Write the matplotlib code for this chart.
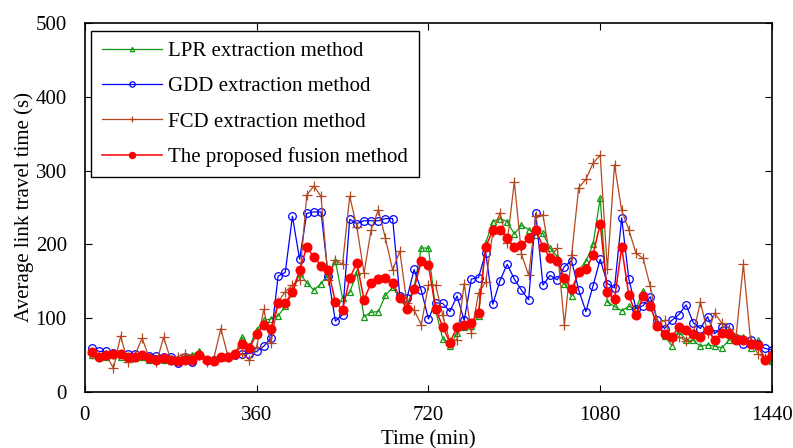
import numpy as np
import matplotlib
matplotlib.use("Agg")
import matplotlib.pyplot as plt

plt.rcParams['font.family'] = ['Liberation Serif', 'DejaVu Serif']

# time of day, 15 min steps
t = np.arange(15, 1441, 15)

lpr = [50, 47, 48, 50, 48, 45, 46, 48, 44, 43, 44, 42, 45, 48, 50, 56, 45, 44, 46, 47,
       52, 74, 62, 84, 97, 99, 103, 116, 134, 161, 148, 138, 147, 160, 178, 127, 135, 162, 102, 108,
       109, 131, 142, 127, 118, 142, 195, 195, 111, 72, 62, 80, 88, 89, 103, 202, 231, 235, 231, 214,
       226, 220, 213, 215, 195, 183, 147, 130, 165, 177, 200, 263, 122, 116, 110, 116, 113, 137, 115, 91,
       76, 63, 82, 70, 70, 62, 64, 62, 60, 70, 73, 75, 59, 70, 43, 42]

gdd = [59, 55, 55, 53, 52, 52, 51, 50, 49, 49, 48, 48, 39, 48, 41, 50, 44, 43, 47, 48,
       50, 52, 52, 55, 62, 73, 157, 162, 238, 180, 242, 244, 244, 157, 96, 105, 234, 228, 232, 232,
       232, 235, 235, 130, 127, 166, 138, 99, 121, 120, 109, 130, 97, 153, 155, 189, 119, 151, 173, 153,
       138, 125, 242, 145, 158, 152, 170, 178, 138, 109, 144, 180, 147, 141, 236, 153, 113, 117, 129, 97,
       86, 97, 105, 118, 94, 86, 102, 79, 88, 88, 73, 65, 70, 65, 59, 57]

fcd = [52, 48, 50, 32, 76, 40, 50, 73, 46, 40, 74, 44, 48, 52, 45, 50, 40, 45, 86, 48,
       52, 52, 43, 61, 112, 66, 122, 136, 145, 152, 267, 279, 265, 152, 179, 173, 265, 224, 161, 220,
       247, 208, 165, 191, 120, 111, 91, 145, 145, 104, 68, 71, 147, 80, 134, 149, 217, 243, 202, 285,
       187, 158, 239, 240, 182, 195, 91, 185, 277, 288, 310, 321, 166, 308, 246, 220, 188, 181, 143, 93,
       97, 70, 75, 69, 79, 122, 80, 107, 93, 86, 77, 173, 70, 52, 46, 50]

fusion = [54, 48, 50, 52, 52, 47, 48, 50, 46, 44, 46, 44, 42, 44, 44, 50, 43, 42, 48, 48,
          51, 65, 59, 79, 91, 86, 120, 120, 136, 165, 196, 183, 171, 165, 122, 111, 154, 175, 125, 148,
          153, 154, 148, 128, 113, 140, 177, 172, 113, 88, 67, 88, 91, 94, 107, 196, 220, 220, 208, 197,
          199, 208, 220, 197, 181, 178, 154, 139, 162, 166, 186, 228, 135, 126, 196, 131, 105, 130, 117, 89,
          79, 75, 88, 84, 79, 75, 84, 71, 80, 79, 70, 71, 65, 64, 44, 50]

fig = plt.figure(figsize=(7.93, 4.48), dpi=100)
ax = fig.add_axes([0.107, 0.125, 0.8665, 0.8237])

ax.plot(t, lpr, color='#119911', lw=0.9, marker='^', ms=4.5, mfc='none', mew=0.9,
        label='LPR extraction method')
ax.plot(t, gdd, color='#0000ff', lw=0.9, marker='o', ms=5.5, mfc='none', mew=0.9,
        label='GDD extraction method')
ax.plot(t, fcd, color='#b5471e', lw=0.9, marker='+', ms=7, mew=0.9,
        label='FCD extraction method')
ax.plot(t, fusion, color='#ff0000', lw=1.1, marker='o', ms=6.2, mfc='#ff0000', mec='#ff0000',
        label='The proposed fusion method')

ax.set_xlim(0, 1440)
ax.set_ylim(0, 500)
ax.set_xticks([0, 360, 720, 1080, 1440])
ax.set_yticks([0, 100, 200, 300, 400, 500])
ax.tick_params(direction='in', top=True, right=True, labelsize=15, length=5)
ax.tick_params(axis='x', pad=10)
ax.tick_params(axis='y', pad=13)
for s in ax.spines.values():
    s.set_linewidth(1.2)

ax.set_xlabel('Time (min)', fontsize=15, labelpad=3.5)
ax.set_ylabel('Average link travel time (s)', fontsize=15, labelpad=1)

leg = ax.legend(loc='upper left', bbox_to_anchor=(0.0095, 0.978), borderaxespad=0,
                fontsize=15, fancybox=False, framealpha=1, edgecolor='black',
                handlelength=2.9, labelspacing=0.75, borderpad=0.5, handletextpad=0.3,
                markerscale=0.7)
leg.get_frame().set_linewidth(1.0)

fig.savefig('out.png', dpi=100)
